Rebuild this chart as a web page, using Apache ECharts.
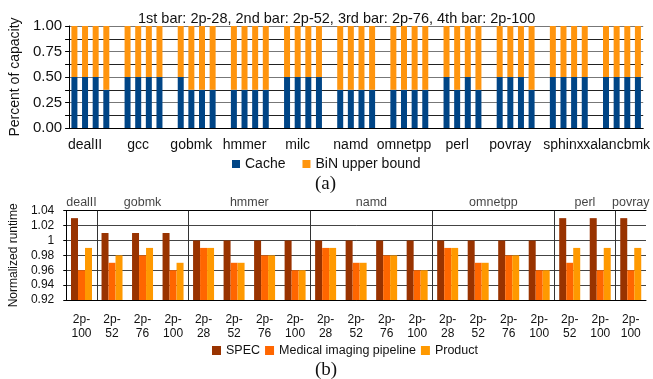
<!DOCTYPE html>
<html>
<head>
<meta charset="utf-8">
<script src="https://cdn.jsdelivr.net/npm/echarts@6/dist/echarts.min.js"></script>
<style>
  html, body { margin: 0; padding: 0; background: #fff; }
  #chart { width: 653px; height: 379px; }
</style>
</head>
<body>
<div id="chart"></div>
<script>
// (a) one value per bar: 1st 2p-28, 2nd 2p-52, 3rd 2p-76, 4th 2p-100
const benchmarks = ['dealII', 'gcc', 'gobmk', 'hmmer', 'milc', 'namd', 'omnetpp', 'perl', 'povray', 'sphinx', 'xalancbmk'];
const cacheShare = [
  [0.5, 0.5, 0.5, 0.375],
  [0.5, 0.5, 0.5, 0.5],
  [0.5, 0.375, 0.375, 0.375],
  [0.375, 0.375, 0.375, 0.375],
  [0.5, 0.5, 0.5, 0.5],
  [0.375, 0.375, 0.375, 0.375],
  [0.375, 0.375, 0.375, 0.375],
  [0.5, 0.375, 0.5, 0.375],
  [0.5, 0.5, 0.5, 0.375],
  [0.5, 0.5, 0.5, 0.5],
  [0.5, 0.5, 0.5, 0.5]
];
const binUpperBound = [
  [0.5, 0.5, 0.5, 0.625],
  [0.5, 0.5, 0.5, 0.5],
  [0.5, 0.625, 0.625, 0.625],
  [0.625, 0.625, 0.625, 0.625],
  [0.5, 0.5, 0.5, 0.5],
  [0.625, 0.625, 0.625, 0.625],
  [0.625, 0.625, 0.625, 0.625],
  [0.5, 0.625, 0.5, 0.625],
  [0.5, 0.5, 0.5, 0.625],
  [0.5, 0.5, 0.5, 0.5],
  [0.5, 0.5, 0.5, 0.5]
];

// (b) normalized runtime
const runtimeGroups = ['dealII', 'gobmk', 'hmmer', 'namd', 'omnetpp', 'perl', 'povray'];
const runtimeConfigs = [
  ['2p-100'],
  ['2p-52', '2p-76', '2p-100'],
  ['2p-28', '2p-52', '2p-76', '2p-100'],
  ['2p-28', '2p-52', '2p-76', '2p-100'],
  ['2p-28', '2p-52', '2p-76', '2p-100'],
  ['2p-52', '2p-100'],
  ['2p-100']
];
const specRuntime = [1.03, 1.01, 1.01, 1.01, 1, 1, 1, 1, 1, 1, 1, 1, 1, 1, 1, 1, 1.03, 1.03, 1.03];
const medicalRuntime = [0.96, 0.97, 0.98, 0.96, 0.99, 0.97, 0.98, 0.96, 0.99, 0.97, 0.98, 0.96, 0.99, 0.97, 0.98, 0.96, 0.97, 0.96, 0.96];
const productRuntime = [0.99, 0.98, 0.99, 0.97, 0.99, 0.97, 0.98, 0.96, 0.99, 0.97, 0.98, 0.96, 0.99, 0.97, 0.98, 0.96, 0.99, 0.99, 0.99];

// slots for (a): 4 bars per benchmark, an empty slot between benchmarks
const slots = [];
const cacheData = [];
const binData = [];
benchmarks.forEach(function (b, g) {
  if (g > 0) {
    slots.push('gap|' + g);
    cacheData.push('-');
    binData.push('-');
  }
  for (let i = 0; i < 4; i++) {
    slots.push(b + '|' + i);
    cacheData.push(cacheShare[g][i]);
    binData.push(binUpperBound[g][i]);
  }
});

// categories for (b), with group borders and centres on a 0..n scale
const runtimeCats = [];
const borders = [];
const headers = [];
let pos = 0;
runtimeGroups.forEach(function (name, g) {
  const n = runtimeConfigs[g].length;
  if (g > 0) borders.push({ xAxis: pos });
  headers.push({ name: name, value: [pos + n / 2, 1.04] });
  runtimeConfigs[g].forEach(function (c) {
    runtimeCats.push(c.replace('-', '-\n'));
  });
  pos += n;
});

const font = "'Liberation Sans', Arial, sans-serif";
const serif = "'Liberation Serif', 'Times New Roman', serif";

const myChart = echarts.init(document.getElementById('chart'));
myChart.setOption({
  animation: false,
  textStyle: { fontFamily: font, color: '#111' },
  title: [
    {
      text: '1st bar: 2p-28, 2nd bar: 2p-52, 3rd bar: 2p-76, 4th bar: 2p-100',
      left: 133,
      top: 6,
      textStyle: { fontSize: 14.5, fontWeight: 'normal', color: '#111', fontFamily: font }
    },
    {
      text: '(a)',
      left: 310,
      top: 170,
      textStyle: { fontSize: 19, fontWeight: 'normal', color: '#111', fontFamily: serif }
    },
    {
      text: '(b)',
      left: 310,
      top: 356,
      textStyle: { fontSize: 19, fontWeight: 'normal', color: '#111', fontFamily: serif }
    }
  ],
  legend: [
    {
      data: ['Cache', 'BiN upper bound'],
      left: 232,
      top: 157,
      icon: 'rect',
      itemWidth: 8,
      itemHeight: 8,
      itemGap: 17,
      padding: 0,
      textStyle: { fontSize: 14, color: '#111' }
    },
    {
      data: ['SPEC', 'Medical imaging pipeline', 'Product'],
      left: 212,
      top: 344,
      icon: 'rect',
      itemWidth: 9,
      itemHeight: 9,
      itemGap: 5,
      padding: 0,
      textStyle: { fontSize: 12.5, color: '#111' }
    }
  ],
  grid: [
    { left: 67.5, right: 6.5, top: 26, height: 102 },
    { left: 66, right: 7, top: 210.7, height: 89.3 }
  ],
  xAxis: [
    {
      gridIndex: 0,
      type: 'category',
      data: slots,
      axisLine: { lineStyle: { color: '#000' } },
      axisTick: { interval: 0, length: 5, lineStyle: { color: '#000' } },
      axisLabel: {
        interval: 0,
        margin: 10,
        fontSize: 14,
        color: '#111',
        formatter: function (v) {
          const p = v.split('|');
          return p[1] === '1' && p[0] !== 'gap' ? p[0] : '';
        }
      }
    },
    {
      gridIndex: 1,
      type: 'category',
      data: runtimeCats,
      axisLine: { lineStyle: { color: '#000' } },
      axisTick: { interval: 0, inside: true, length: 4, lineStyle: { color: '#000' } },
      axisLabel: { interval: 0, margin: 13, fontSize: 12, lineHeight: 14, color: '#111' }
    },
    {
      gridIndex: 1,
      type: 'value',
      min: 0,
      max: runtimeCats.length,
      position: 'top',
      axisLine: { show: true, lineStyle: { color: '#000' } },
      axisTick: { show: false },
      axisLabel: { show: false },
      splitLine: { show: false }
    }
  ],
  yAxis: [
    {
      gridIndex: 0,
      type: 'value',
      min: 0,
      max: 1,
      interval: 0.125,
      name: 'Percent of capacity',
      nameLocation: 'middle',
      nameGap: 47,
      nameTextStyle: { fontSize: 14, color: '#111' },
      axisLine: { show: true, lineStyle: { color: '#000' } },
      axisTick: { show: true, length: 4, lineStyle: { color: '#000' } },
      axisLabel: {
        margin: 7,
        fontSize: 15,
        color: '#111',
        formatter: function (v) {
          return Math.round(v * 8) % 2 === 0 ? v.toFixed(2) : '';
        }
      },
      splitLine: { lineStyle: { color: ['#777', '#222'] } }
    },
    {
      gridIndex: 1,
      type: 'value',
      min: 0.92,
      max: 1.04,
      interval: 0.02,
      name: 'Normalized runtime',
      nameLocation: 'middle',
      nameGap: 45,
      nameTextStyle: { fontSize: 12, color: '#111' },
      axisLine: { show: true, lineStyle: { color: '#000' } },
      axisTick: { show: true, length: 3, lineStyle: { color: '#000' } },
      axisLabel: { margin: 12, fontSize: 12, color: '#111' },
      splitLine: { lineStyle: { color: '#444' } }
    }
  ],
  series: [
    {
      name: 'Cache',
      type: 'bar',
      xAxisIndex: 0,
      yAxisIndex: 0,
      stack: 'cap',
      barWidth: 6,
      itemStyle: { color: '#004586' },
      data: cacheData
    },
    {
      name: 'BiN upper bound',
      type: 'bar',
      xAxisIndex: 0,
      yAxisIndex: 0,
      stack: 'cap',
      barWidth: 6,
      itemStyle: { color: '#ff950e' },
      data: binData
    },
    {
      name: 'SPEC',
      type: 'bar',
      xAxisIndex: 1,
      yAxisIndex: 1,
      barWidth: 7,
      barGap: 0,
      itemStyle: { color: '#993300' },
      data: specRuntime
    },
    {
      name: 'Medical imaging pipeline',
      type: 'bar',
      xAxisIndex: 1,
      yAxisIndex: 1,
      barWidth: 7,
      barGap: 0,
      itemStyle: { color: '#ff6600' },
      data: medicalRuntime
    },
    {
      name: 'Product',
      type: 'bar',
      xAxisIndex: 1,
      yAxisIndex: 1,
      barWidth: 7,
      barGap: 0,
      itemStyle: { color: '#ff9900' },
      data: productRuntime
    },
    {
      // group separators and group names of (b)
      type: 'scatter',
      xAxisIndex: 2,
      yAxisIndex: 1,
      symbolSize: 0,
      silent: true,
      clip: false,
      data: headers,
      label: {
        show: true,
        position: 'top',
        distance: 2,
        formatter: '{b}',
        fontSize: 12.5,
        color: '#111'
      },
      markLine: {
        silent: true,
        symbol: 'none',
        label: { show: false },
        lineStyle: { color: '#333', type: 'solid', width: 1 },
        data: borders
      }
    }
  ]
});
</script>
</body>
</html>
